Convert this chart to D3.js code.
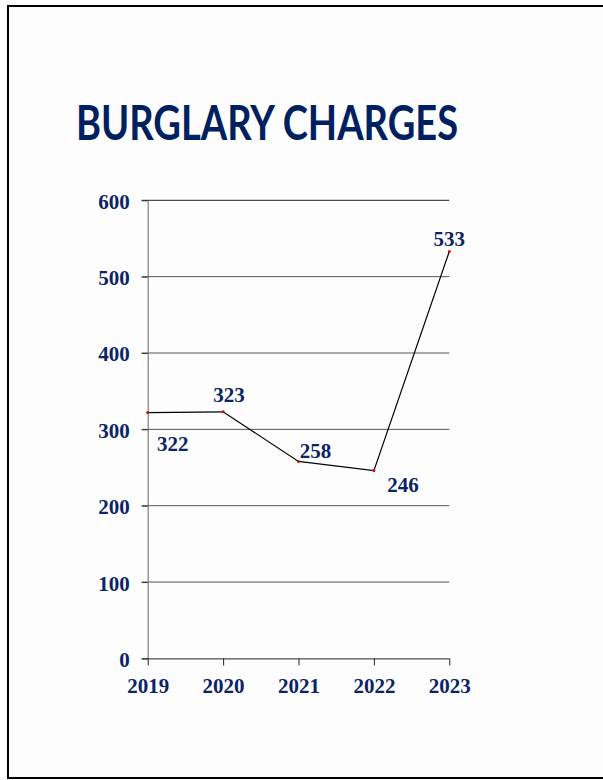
<!DOCTYPE html>
<html>
<head>
<meta charset="utf-8">
<script src="https://cdn.jsdelivr.net/npm/d3@7"></script>
<style>
  html, body { margin: 0; padding: 0; background: #ffffff; }
  svg { display: block; }
</style>
</head>
<body>
<svg id="chart" width="603" height="780"></svg>
<script>
const title = "BURGLARY CHARGES";
const years = ["2019", "2020", "2021", "2022", "2023"];
const charges = [322, 323, 258, 246, 533];
const yTicks = [0, 100, 200, 300, 400, 500, 600];
// label offsets relative to each point (dx, dy of baseline)
const labelDx = [25, 6, 17, 29, 0];
const labelDy = [38, -10, -3, 21, -5];

const navy = "#0b2466";
const svg = d3.select("#chart");

// frame
svg.append("rect")
  .attr("x", 8).attr("y", 6)
  .attr("width", 620).attr("height", 772)
  .attr("fill", "#fdfdfd")
  .attr("stroke", "#000").attr("stroke-width", 2);

// title
svg.append("text")
  .attr("x", 267).attr("y", 140)
  .attr("text-anchor", "middle")
  .attr("font-family", "Lato, 'Open Sans', sans-serif")
  .attr("font-weight", "bold")
  .attr("font-size", 47)
  .attr("fill", "#002060")
  .attr("textLength", 382)
  .attr("lengthAdjust", "spacingAndGlyphs")
  .text(title);

const x = d3.scalePoint().domain(years).range([147.7, 449.3]);
const y = d3.scaleLinear().domain([0, 600]).range([658.4, 200.3]);

// gridlines
svg.append("g")
  .selectAll("line")
  .data(yTicks.filter(d => d > 0))
  .join("line")
  .attr("x1", 141.7).attr("x2", 449.3)
  .attr("y1", d => y(d)).attr("y2", d => y(d))
  .attr("stroke", d => d === 600 ? "#222" : "#555")
  .attr("stroke-width", 1);

// y axis
const yAxis = svg.append("g")
  .attr("transform", "translate(147.7,0)")
  .call(d3.axisLeft(y).tickValues(yTicks).tickSize(6).tickSizeOuter(0).tickPadding(12));
yAxis.select(".domain").attr("stroke", "#666");
yAxis.selectAll(".tick line").attr("stroke", "#333");
yAxis.selectAll(".tick text")
  .attr("font-family", "'Liberation Serif', 'Times New Roman', serif")
  .attr("font-weight", "bold")
  .attr("font-size", 21)
  .attr("fill", navy)
  .attr("dy", "0.38em");

// x axis
const xAxis = svg.append("g")
  .attr("transform", "translate(0,658.4)")
  .call(d3.axisBottom(x).tickSize(7).tickSizeOuter(0).tickPadding(12));
xAxis.select(".domain").attr("stroke", "#222").attr("d", "M141.7,0.5H449.3");
xAxis.selectAll(".tick line").attr("stroke", "#222");
xAxis.selectAll(".tick text")
  .attr("font-family", "'Liberation Serif', 'Times New Roman', serif")
  .attr("font-weight", "bold")
  .attr("font-size", 21)
  .attr("fill", navy)
  .attr("dy", "0.72em");

// line
const pts = years.map((yr, i) => ({ yr, v: charges[i], i }));
svg.append("path")
  .datum(pts)
  .attr("fill", "none")
  .attr("stroke", "#000")
  .attr("stroke-width", 1.2)
  .attr("d", d3.line().x(d => x(d.yr)).y(d => y(d.v)));

svg.append("g")
  .selectAll("circle")
  .data(pts)
  .join("circle")
  .attr("cx", d => x(d.yr)).attr("cy", d => y(d.v))
  .attr("r", 1.5)
  .attr("fill", "#e00000");

// data labels
svg.append("g")
  .selectAll("text")
  .data(pts)
  .join("text")
  .attr("x", d => x(d.yr) + labelDx[d.i])
  .attr("y", d => y(d.v) + labelDy[d.i])
  .attr("text-anchor", "middle")
  .attr("font-family", "'Liberation Serif', 'Times New Roman', serif")
  .attr("font-weight", "bold")
  .attr("font-size", 21)
  .attr("fill", navy)
  .text(d => d.v);
</script>
</body>
</html>
